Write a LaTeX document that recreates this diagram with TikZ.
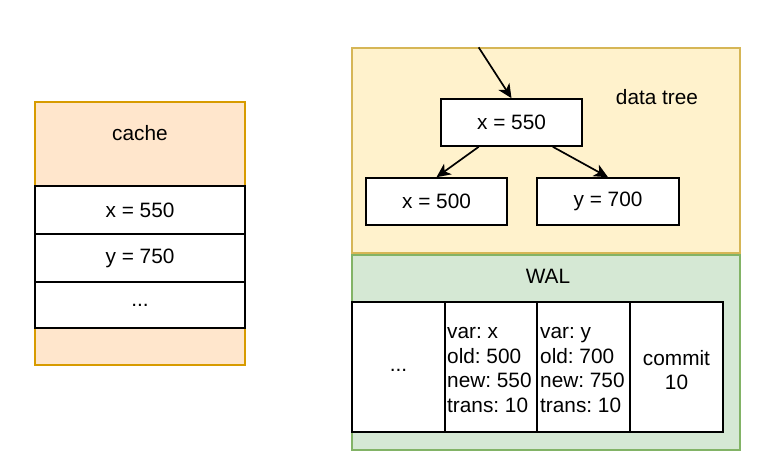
\documentclass[tikz,border=0pt]{standalone}
\usepackage{fontspec}
\setmainfont{Liberation Sans}
\frenchspacing
\usetikzlibrary{arrows.meta,calc}
\definecolor{cachefill}{HTML}{FFE6CC}
\definecolor{cachedraw}{HTML}{D79B00}
\definecolor{treefill}{HTML}{FFF2CC}
\definecolor{treedraw}{HTML}{D6B656}
\definecolor{walfill}{HTML}{D5E8D4}
\definecolor{waldraw}{HTML}{82B366}
\tikzset{
  panel/.style={draw=#1draw, fill=#1fill, line width=1.3pt, minimum width=0pt, inner sep=0pt},
  cell/.style={draw=black, fill=white, line width=1.6pt, inner sep=2pt},
  lbl/.style={inner sep=0pt},
  arr/.style={line width=1.7pt, -{Stealth[length=14pt,width=13pt,inset=4pt]}},
}
\begin{document}
\begin{tikzpicture}[x=1pt,y=-1pt,font=\fontsize{20.8}{24.7}\selectfont]
\useasboundingbox (0,0) rectangle (766,471);
% cache
\node[panel=cache, minimum width=210pt, minimum height=263pt] (cache) at (140,233.5) {};
\node[lbl] (cachelbl) at (140,133) {cache};
\node[cell, minimum width=210pt, minimum height=48pt] (c1) at (140,210) {x = 550};
\node[cell, minimum width=210pt, minimum height=48pt] (c2) at (140,258) {y = 750};
\node[cell, minimum width=210pt, minimum height=46pt] (c3) at (140,305) {...};
% data tree
\node[panel=tree, minimum width=388pt, minimum height=205pt] (tree) at (546,150.5) {};
\node[lbl] (treelbl) at (657,97) {data tree};
\node[cell, minimum width=141pt, minimum height=47pt] (x550) at (511.5,122.5) {x = 550};
\node[cell, minimum width=141pt, minimum height=47pt] (x500) at (436.5,201.5) {x = 500};
\node[cell, minimum width=142pt, minimum height=47pt] (y700) at (608,201.5) {y = 700};
\coordinate (top) at ($(tree.north west)!0.327!(tree.north east)$);
\draw[arr] (top) -- (x550.north);
\draw[arr] ($(x550.south west)!0.27!(x550.south east)$) -- (x500.north);
\draw[arr] ($(x550.south west)!0.79!(x550.south east)$) -- (y700.north);
% WAL
\node[panel=wal, minimum width=388pt, minimum height=195pt] (wal) at (546,352.5) {};
\node[lbl] (wallbl) at (548,276) {WAL};
\node[cell, minimum width=93pt, minimum height=130pt] (w1) at (398.5,367) {};
\node[cell, minimum width=92pt, minimum height=130pt] (w2) at (491,367) {};
\node[cell, minimum width=93pt, minimum height=130pt] (w3) at (583.5,367) {};
\node[cell, minimum width=93pt, minimum height=130pt] (w4) at (676.5,367) {};
\node[lbl] (w1t) at (398.5,370) {...};
\node[lbl, anchor=west, align=left] (w2t) at (447,370) {var: x\\old: 500\\new: 550\\trans: 10};
\node[lbl, anchor=west, align=left] (w3t) at (540,370) {var: y\\old: 700\\new: 750\\trans: 10};
\node[lbl, align=center] (w4t) at (676.5,370) {commit\\10};
\end{tikzpicture}
\end{document}
